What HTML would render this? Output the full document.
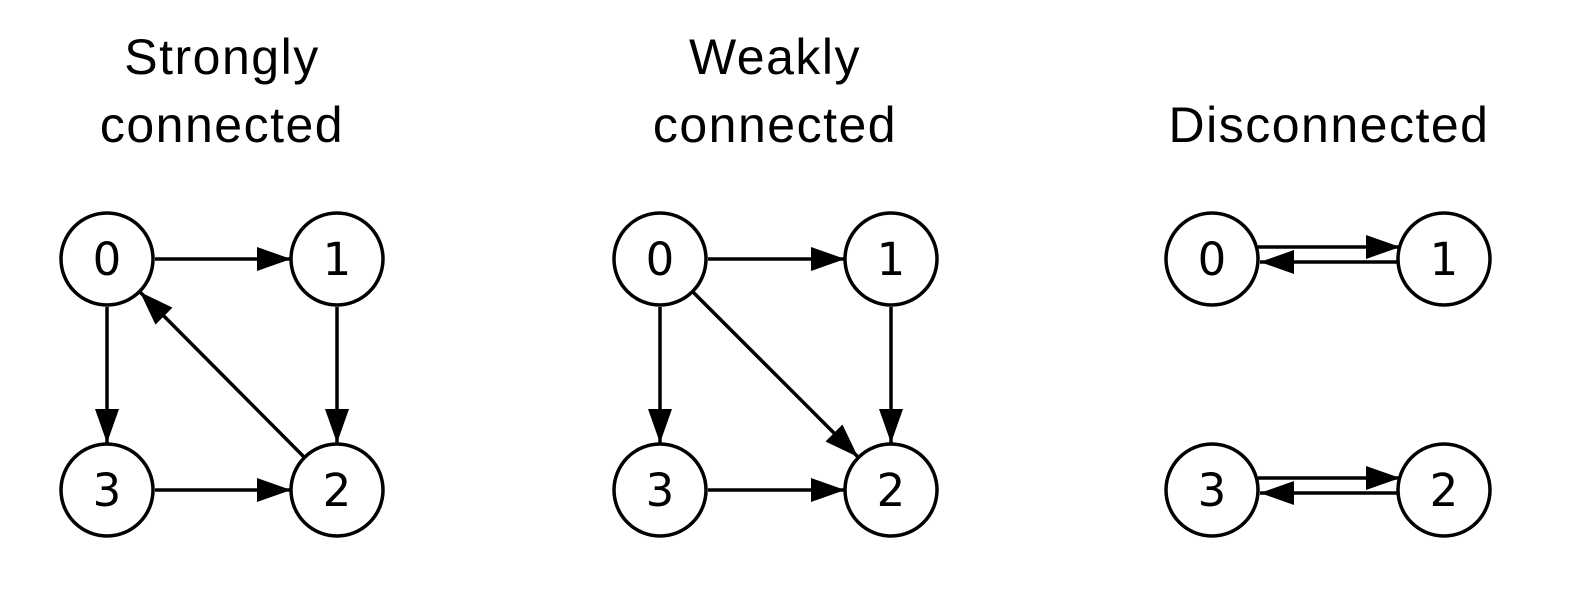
<!DOCTYPE html>
<html><head><style>html,body{margin:0;padding:0;background:#fff}svg{display:block}</style></head>
<body>
<svg width="1570" height="590" viewBox="0 0 1570 590" xmlns="http://www.w3.org/2000/svg">
<defs>
<marker id="a" markerUnits="userSpaceOnUse" markerWidth="36" markerHeight="26" refX="34" refY="13" orient="auto">
<polygon points="0,1 34,13 0,25" fill="#000"/>
</marker>
</defs>
<g font-family="Liberation Sans, sans-serif" font-size="50" letter-spacing="1.5" text-anchor="middle" fill="#000">
<text x="222" y="74">Strongly</text><text x="222" y="142">connected</text>
<text x="775" y="74">Weakly</text><text x="775" y="142">connected</text>
<text x="1329" y="142">Disconnected</text>
</g>
<g fill="#fff" stroke="#000" stroke-width="3.5">
<circle cx="107" cy="259" r="46"/><circle cx="337" cy="259" r="46"/>
<circle cx="107" cy="490" r="46"/><circle cx="337" cy="490" r="46"/>
<circle cx="660" cy="259" r="46"/><circle cx="891" cy="259" r="46"/>
<circle cx="660" cy="490" r="46"/><circle cx="891" cy="490" r="46"/>
<circle cx="1212" cy="259" r="46"/><circle cx="1444" cy="259" r="46"/>
<circle cx="1212" cy="490" r="46"/><circle cx="1444" cy="490" r="46"/>
</g>
<g stroke="#000" stroke-width="3.5" fill="none" marker-end="url(#a)">
<line x1="155" y1="259" x2="291" y2="259"/>
<line x1="337" y1="307" x2="337" y2="443"/>
<line x1="107" y1="307" x2="107" y2="443"/>
<line x1="155" y1="490" x2="291" y2="490"/>
<line x1="304" y1="457" x2="140" y2="292"/>
<line x1="708" y1="259" x2="845" y2="259"/>
<line x1="891" y1="307" x2="891" y2="443"/>
<line x1="660" y1="307" x2="660" y2="443"/>
<line x1="708" y1="490" x2="845" y2="490"/>
<line x1="693" y1="292" x2="858" y2="457"/>
<line x1="1258" y1="247" x2="1400" y2="247"/>
<line x1="1398" y1="262" x2="1260" y2="262"/>
<line x1="1258" y1="478" x2="1400" y2="478"/>
<line x1="1398" y1="493" x2="1260" y2="493"/>
</g>
<g font-family="DejaVu Sans, sans-serif" font-size="45" text-anchor="middle" fill="#000">
<text x="107" y="275">0</text><text x="337" y="275">1</text><text x="107" y="506">3</text><text x="337" y="506">2</text>
<text x="660" y="275">0</text><text x="891" y="275">1</text><text x="660" y="506">3</text><text x="891" y="506">2</text>
<text x="1212" y="275">0</text><text x="1444" y="275">1</text><text x="1212" y="506">3</text><text x="1444" y="506">2</text>
</g>
</svg>
</body></html>
